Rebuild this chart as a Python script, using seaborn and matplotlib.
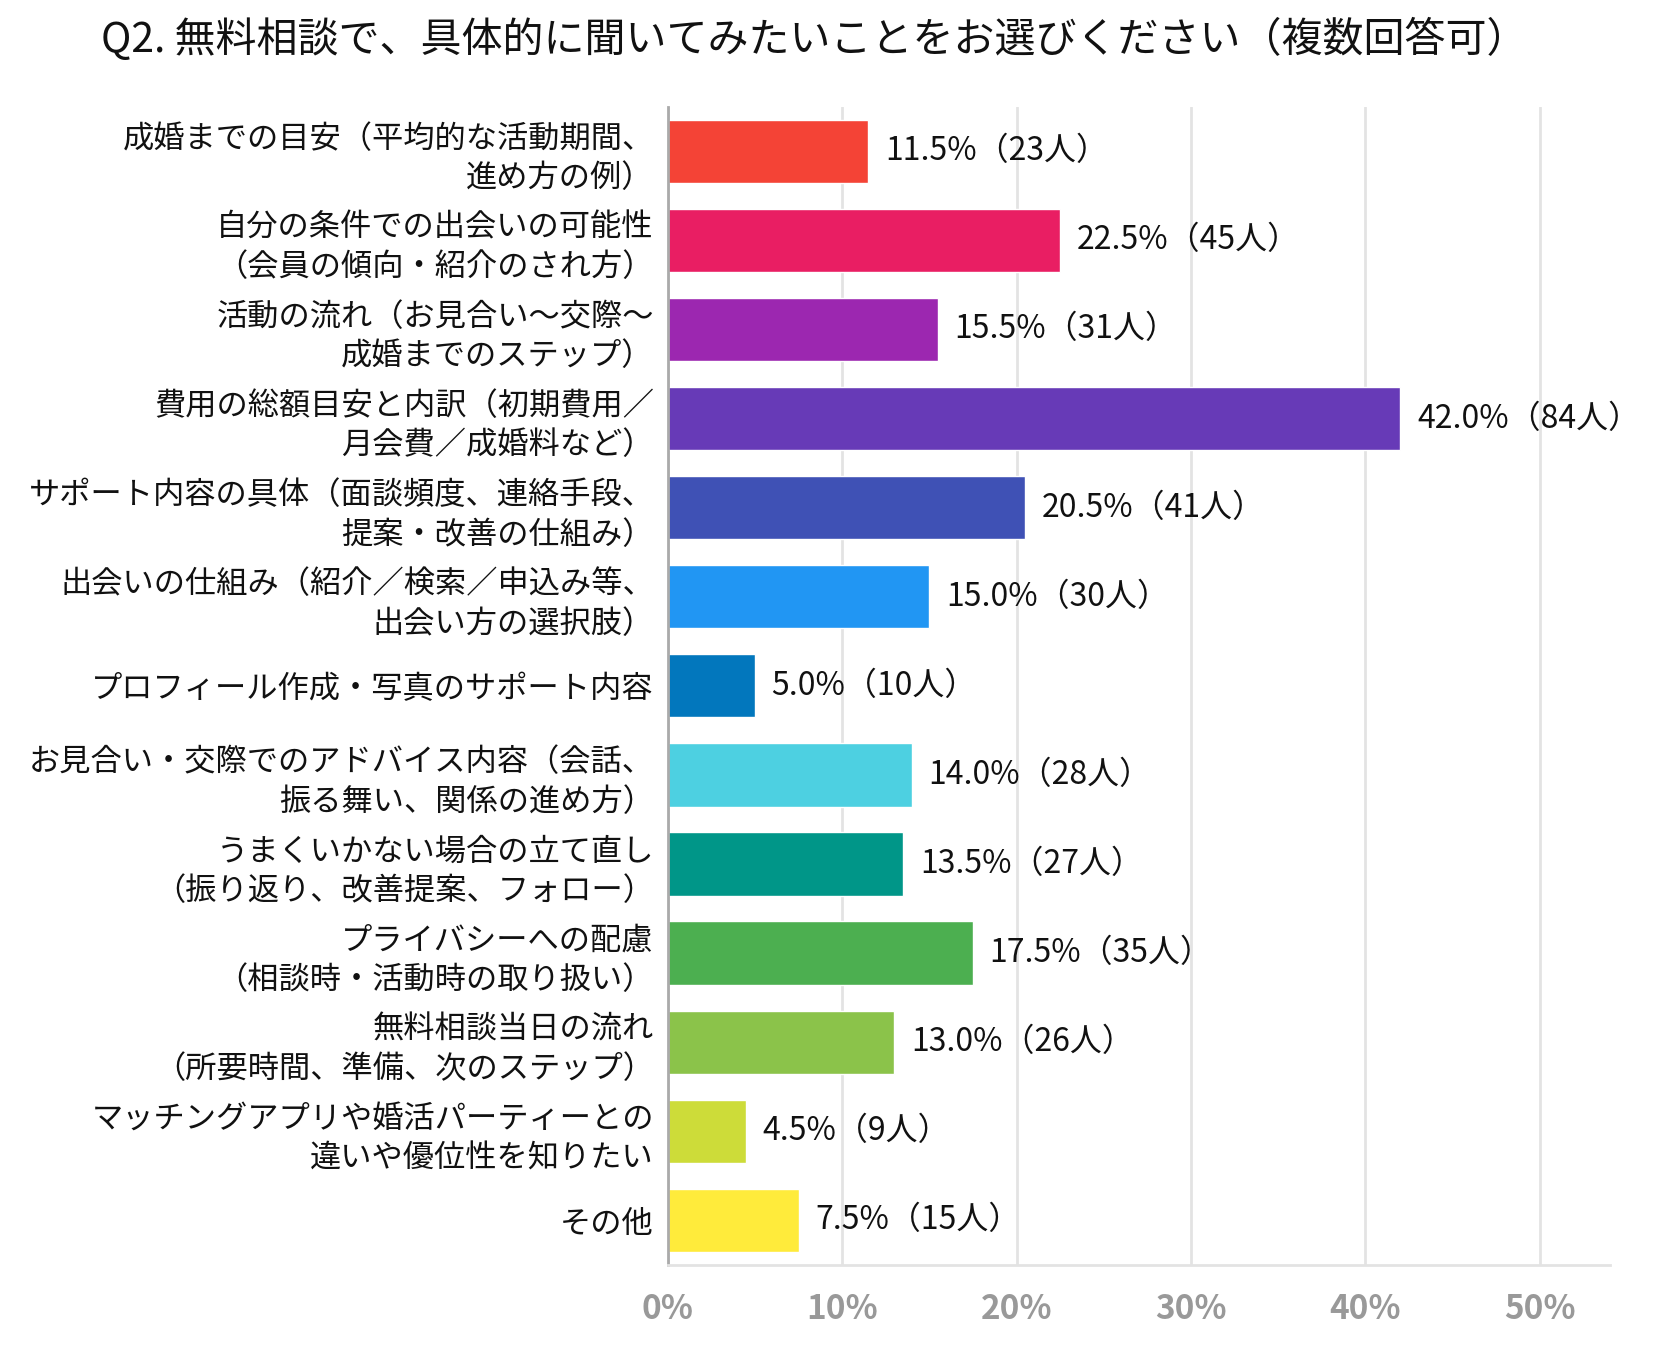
import matplotlib
matplotlib.use("Agg")
import matplotlib.pyplot as plt
import seaborn as sns
import pandas as pd
from matplotlib.ticker import MultipleLocator, FuncFormatter

# ==========================
# Data
# ==========================

labels = [
    "成婚までの目安（平均的な活動期間、\n進め方の例）",
    "自分の条件での出会いの可能性\n（会員の傾向・紹介のされ方）",
    "活動の流れ（お見合い～交際～\n成婚までのステップ）",
    "費用の総額目安と内訳（初期費用／\n月会費／成婚料など）",
    "サポート内容の具体（面談頻度、連絡手段、\n提案・改善の仕組み）",
    "出会いの仕組み（紹介／検索／申込み等、\n出会い方の選択肢）",
    "プロフィール作成・写真のサポート内容",
    "お見合い・交際でのアドバイス内容（会話、\n振る舞い、関係の進め方）",
    "うまくいかない場合の立て直し\n（振り返り、改善提案、フォロー）",
    "プライバシーへの配慮\n（相談時・活動時の取り扱い）",
    "無料相談当日の流れ\n（所要時間、準備、次のステップ）",
    "マッチングアプリや婚活パーティーとの\n違いや優位性を知りたい",
    "その他",
]
percent = [11.5, 22.5, 15.5, 42.0, 20.5, 15.0, 5.0, 14.0, 13.5, 17.5, 13.0, 4.5, 7.5]
people = [23, 45, 31, 84, 41, 30, 10, 28, 27, 35, 26, 9, 15]

colors = [
    "#F44336", "#E91E63", "#9C27B0", "#673AB7", "#3F51B5", "#2196F3", "#0277BD",
    "#4DD0E1", "#009688", "#4CAF50", "#8BC34A", "#CDDC39", "#FFEB3B",
]

title = "Q2. 無料相談で、具体的に聞いてみたいことをお選びください（複数回答可）"

df = pd.DataFrame({"label": labels, "percent": percent, "people": people})

# ==========================
# Style
# ==========================

sns.set_theme(style="white")
plt.rcParams["font.family"] = ["Noto Sans CJK JP", "DejaVu Sans"]

fig = plt.figure(figsize=(16.61, 13.5), dpi=100)
ax = fig.add_axes([0.402, 0.063, 0.567, 0.858])

sns.barplot(
    data=df,
    x="percent",
    y="label",
    hue="label",
    palette=colors,
    legend=False,
    width=0.71,
    saturation=1,
    ax=ax,
)

ax.set_xlim(0, 54)
ax.set_ylim(12.5, -0.5)
ax.xaxis.set_major_locator(MultipleLocator(10))
ax.xaxis.set_major_formatter(FuncFormatter(lambda v, p: f"{v:.0f}%" if v <= 50 else ""))
ax.grid(axis="x", color="#e3e3e3", linewidth=2)
ax.set_axisbelow(True)

for s in ["top", "right"]:
    ax.spines[s].set_visible(False)
ax.spines["left"].set_color("#aaaaaa")
ax.spines["left"].set_linewidth(2)
ax.spines["bottom"].set_color("#e3e3e3")
ax.spines["bottom"].set_linewidth(2)

ax.set_xlabel("")
ax.set_ylabel("")
ax.tick_params(axis="y", length=0, pad=10, labelsize=22.5)
ax.tick_params(axis="x", length=0, pad=20, labelsize=24, labelcolor="#999999")
for t in ax.get_xticklabels():
    t.set_fontweight("bold")
for t in ax.get_yticklabels():
    t.set_linespacing(1.3)
    t.set_color("#111111")

# ==========================
# Value labels
# ==========================

for i, bar in enumerate(ax.patches):
    ax.annotate(
        f"{percent[i]:.1f}%（{people[i]}人）",
        xy=(bar.get_width(), bar.get_y() + bar.get_height() / 2),
        xytext=(12, 0),
        textcoords="offset points",
        va="center",
        ha="left",
        fontsize=23,
        color="#111111",
    )

fig.text(0.49, 0.971, title, ha="center", va="center", fontsize=29.5, color="#111111")

plt.savefig("out.png", dpi=100)
